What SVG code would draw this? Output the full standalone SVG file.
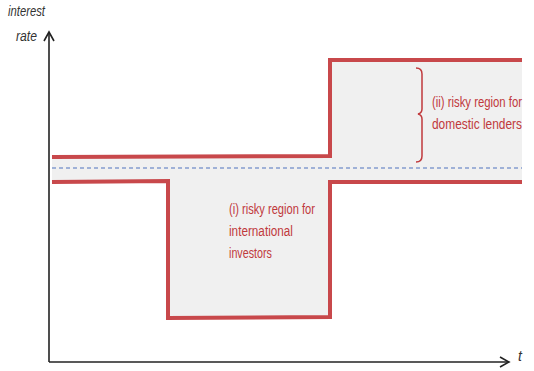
<svg xmlns="http://www.w3.org/2000/svg" width="534" height="371" viewBox="0 0 534 371">
<style>
.red{fill:none;stroke:#c8484b;stroke-width:4;stroke-linejoin:miter}
.lbl{font-family:"Liberation Sans",Arial,sans-serif;font-size:14px;fill:#c0393c}
.ax{font-family:"Liberation Sans",Arial,sans-serif;font-size:14px;font-style:italic;fill:#333}
</style>
<defs>
<marker id="ah" markerWidth="12" markerHeight="12" refX="10" refY="6" orient="auto" markerUnits="userSpaceOnUse">
<path d="M1,1 L10,6 L1,11" fill="none" stroke="#222" stroke-width="1.6"/>
</marker>
</defs>
<rect width="534" height="371" fill="#fff"/>
<g id="shading">
<path d="M52,157 L330,156 L330,60 L522,60 L522,182 L330,182 L330,317 L168,318 L168,182 L52,182 Z" fill="#f0f0f0"/>
</g>
<g id="axes">
<line x1="49" y1="362" x2="49" y2="32" stroke="#222" stroke-width="1.6" marker-end="url(#ah)"/>
<line x1="49" y1="362" x2="509" y2="362" stroke="#222" stroke-width="1.6" marker-end="url(#ah)"/>
<text class="ax" transform="translate(8,16) scale(0.85,1)" x="0" y="0" textLength="43.5" lengthAdjust="spacingAndGlyphs">interest</text>
<text class="ax" transform="translate(16,41) scale(0.85,1)" x="0" y="0" textLength="24.7" lengthAdjust="spacingAndGlyphs">rate</text>
<text class="ax" x="518" y="361">t</text>
</g>
<g id="connectors">
<line x1="52" y1="168" x2="522" y2="168" stroke="#4f72bd" stroke-width="1.2" stroke-dasharray="4,3"/>
<path class="red" d="M52,157 L330,156 L330,60 L522,60"/>
<path class="red" d="M52,182 L168,181 L168,318 L330,317 L330,182 L522,182"/>
<path d="M416,68 Q422,68 422,74 L422,109 Q422,113 418,114 Q422,115 422,119 L422,156 Q422,162 416,162" fill="none" stroke="#c0393c" stroke-width="1.5"/>
</g>
<g id="label-ii">
<text class="lbl" transform="translate(432,107) scale(0.82,1)" x="0" y="0" textLength="109.8" lengthAdjust="spacingAndGlyphs">(ii) risky region for</text>
<text class="lbl" transform="translate(432,129) scale(0.82,1)" x="0" y="0" textLength="109.8" lengthAdjust="spacingAndGlyphs">domestic lenders</text>
</g>
<g id="label-i">
<text class="lbl" transform="translate(229,214) scale(0.82,1)" x="0" y="0" textLength="104.9" lengthAdjust="spacingAndGlyphs">(i) risky region for</text>
<text class="lbl" transform="translate(229,236) scale(0.82,1)" x="0" y="0" textLength="78" lengthAdjust="spacingAndGlyphs">international</text>
<text class="lbl" transform="translate(229,258) scale(0.82,1)" x="0" y="0" textLength="52.4" lengthAdjust="spacingAndGlyphs">investors</text>
</g>
</svg>
